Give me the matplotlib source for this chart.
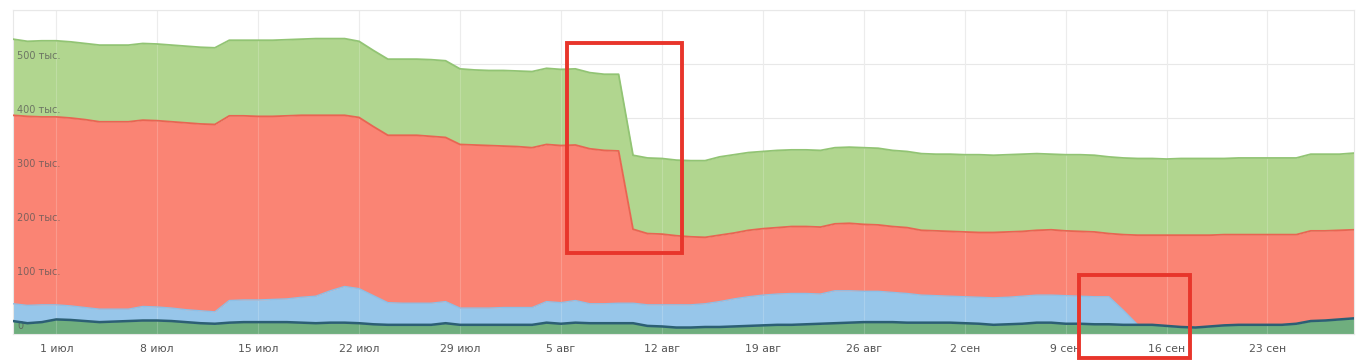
import numpy as np
import pandas as pd
import matplotlib
matplotlib.use('Agg')
import matplotlib.pyplot as plt
from matplotlib.patches import Rectangle

plt.rcParams['font.family'] = ['DejaVu Sans']

# daily values, 28 Jun .. 29 Sep (thousands)
dates = pd.date_range('2019-06-28', '2019-09-29', freq='D')

dark_green = [24, 20, 22, 27, 26, 24, 22, 23, 24, 25, 25, 24, 22, 20, 19,
              21, 22, 22, 22, 22, 21, 20, 21, 21, 20, 18, 17, 17, 17, 17,
              20, 17, 17, 17, 17, 17, 17, 21, 19, 21, 20, 20, 20, 20, 15,
              14, 12, 12, 13, 13, 14, 15, 16, 17, 17, 18, 19, 20, 21, 22,
              22, 22, 21, 21, 21, 21, 20, 19, 17, 18, 19, 21, 21, 19, 19,
              18, 18, 17, 17, 17, 15, 13, 12, 14, 16, 17, 17, 17, 17, 19,
              24, 25, 27, 29]
blue = [32, 33, 32, 27, 26, 25, 24, 23, 22, 26, 25, 24, 23, 23, 22,
        41, 41, 41, 42, 43, 47, 50, 59, 67, 64, 53, 41, 40, 40, 40,
        40, 31, 31, 31, 32, 32, 32, 39, 39, 41, 36, 36, 37, 37, 39,
        40, 42, 42, 43, 47, 51, 54, 56, 57, 58, 57, 55, 60, 59, 57,
        57, 55, 54, 51, 50, 49, 49, 49, 50, 50, 51, 51, 51, 52, 51,
        51, 51, 27, 0, 0, 0, 0, 0, 0, 0, 0, 0, 0, 0, 0,
        0, 0, 0, 0]
red = [349, 350, 348, 348, 348, 348, 347, 347, 347, 345, 345, 345, 346, 346, 347,
       342, 341, 340, 339, 339, 337, 335, 325, 317, 317, 313, 310, 311, 311, 309,
       304, 303, 302, 301, 299, 298, 296, 291, 291, 288, 287, 284, 282, 137, 132,
       131, 128, 126, 123, 123, 122, 123, 123, 123, 124, 124, 124, 124, 125, 124,
       123, 122, 122, 120, 120, 120, 120, 120, 121, 121, 120, 120, 121, 120, 120,
       120, 117, 140, 166, 166, 168, 170, 171, 169, 168, 167, 167, 167, 167, 165,
       167, 166, 165, 164]
green = [141, 139, 141, 141, 141, 141, 142, 142, 142, 142, 142, 142, 142, 142, 142,
         140, 140, 141, 141, 141, 141, 142, 142, 142, 141, 141, 141, 141, 141, 142,
         142, 140, 139, 139, 140, 140, 141, 141, 141, 141, 141, 141, 142, 137, 140,
         140, 140, 141, 142, 145, 145, 144, 143, 143, 142, 142, 142, 141, 141, 142,
         142, 141, 141, 142, 142, 143, 143, 144, 143, 143, 143, 142, 140, 141, 142,
         142, 142, 142, 142, 142, 141, 142, 142, 142, 141, 142, 142, 142, 142, 142,
         142, 142, 141, 142]

tick_dates = pd.date_range('2019-07-01', '2019-09-23', freq='7D')
tick_labels = ['1 июл', '8 июл', '15 июл', '22 июл', '29 июл', '5 авг', '12 авг',
               '19 авг', '26 авг', '2 сен', '9 сен', '16 сен', '23 сен']
y_ticks = [0, 100, 200, 300, 400, 500]
y_labels = ['0', '100 тыс.', '200 тыс.', '300 тыс.', '400 тыс.', '500 тыс.']

layers = [dark_green, blue, red, green]
fills = ['#6fae7e', '#97c6ea', '#fa8474', '#b1d68f']
edges = ['#2c5f74', '#8dbfe6', '#e86552', '#92c474']
widths = [1.8, 1.0, 1.3, 1.3]
line_z = [6, 3, 4, 4]

fig = plt.figure(figsize=(13.6, 3.61), dpi=100)
ax = fig.add_axes([13/1360, 27/361, 1341/1360, 324/361])

bottom = np.zeros(len(dates))
for vals, fc, ec, lw, lz in zip(layers, fills, edges, widths, line_z):
    top = bottom + np.array(vals, dtype=float)
    ax.fill_between(dates, bottom, top, color=fc, lw=0, zorder=2)
    ax.plot(dates, top, color=ec, lw=lw, zorder=lz)
    bottom = top

ax.set_xlim(dates[0], dates[-1])
ax.set_ylim(0, 600)
ax.set_xticks(tick_dates)
ax.set_xticklabels(tick_labels, fontsize=7.8, color='#555555')
ax.tick_params(axis='x', length=0, pad=7)
ax.set_yticks(y_ticks + [600])
ax.set_yticklabels([])
ax.tick_params(axis='y', length=0)
ax.grid(True, color='#e8e8e8', lw=0.8, zorder=0)
ax.set_axisbelow(True)
for s in ax.spines.values():
    s.set_color('#e8e8e8')
    s.set_linewidth(0.8)

# faint grid seen through the filled areas
for t in tick_dates:
    ax.axvline(t, color='white', lw=0.8, alpha=0.18, zorder=2.5)

for v, lab in zip(y_ticks, y_labels):
    ax.text(0.003, v + 6, lab, transform=ax.get_yaxis_transform(),
            fontsize=7, color='#555555', alpha=0.75, va='bottom', ha='left', zorder=5)

# red highlight boxes
d0 = pd.Timestamp('2019-07-01')
box1 = Rectangle((d0 + pd.Timedelta(days=35.4), 150), pd.Timedelta(days=8.0), 389,
                 fill=False, ec='#e8352b', lw=2.8, zorder=7, clip_on=False)
box2 = Rectangle((d0 + pd.Timedelta(days=70.9), -44), pd.Timedelta(days=7.7), 153,
                 fill=False, ec='#e8352b', lw=2.8, zorder=7, clip_on=False)
ax.add_patch(box1)
ax.add_patch(box2)

fig.savefig('out.png', dpi=100, facecolor='white')
